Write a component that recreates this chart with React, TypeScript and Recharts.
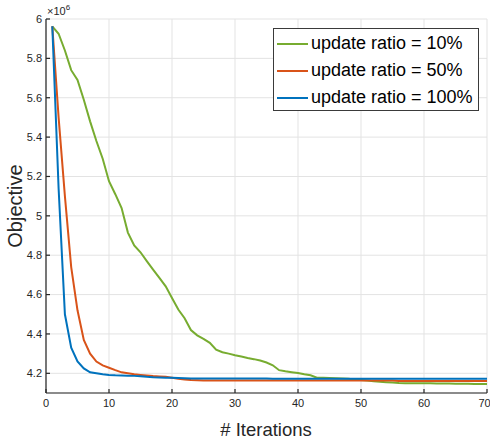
import React from "react";
import {
  LineChart,
  Line,
  XAxis,
  YAxis,
  CartesianGrid,
} from "recharts";

const iterations = [
  1, 2, 3, 4, 5, 6, 7, 8, 9, 10, 11, 12, 13, 14, 15, 16, 17, 18, 19, 20,
  21, 22, 23, 24, 25, 26, 27, 28, 29, 30, 31, 32, 33, 34, 35, 36, 37, 38, 39, 40,
  41, 42, 43, 44, 45, 46, 47, 48, 49, 50, 51, 52, 53, 54, 55, 56, 57, 58, 59, 60,
  61, 62, 63, 64, 65, 66, 67, 68, 69, 70,
];

// objective values (x 1e6)
const ratio10 = [
  5.963, 5.925, 5.84, 5.74, 5.69, 5.59, 5.48, 5.38, 5.29, 5.176,
  5.11, 5.04, 4.915, 4.85, 4.815, 4.77, 4.727, 4.685, 4.642, 4.583,
  4.524, 4.48, 4.42, 4.393, 4.375, 4.355, 4.32, 4.307, 4.3, 4.292,
  4.285, 4.278, 4.272, 4.265, 4.255, 4.241, 4.216, 4.21, 4.206, 4.202,
  4.195, 4.19, 4.178, 4.177, 4.176, 4.175, 4.174, 4.172, 4.169, 4.166,
  4.163, 4.16, 4.157, 4.155, 4.153, 4.151, 4.15, 4.15, 4.149, 4.149,
  4.149, 4.148, 4.148, 4.148, 4.147, 4.147, 4.147, 4.146, 4.146, 4.146,
];

const ratio50 = [
  5.963, 5.5, 5.1, 4.74, 4.52, 4.37, 4.3, 4.26, 4.24, 4.228,
  4.216, 4.205, 4.2, 4.195, 4.192, 4.189, 4.186, 4.184, 4.182, 4.178,
  4.172, 4.168, 4.166, 4.165, 4.164, 4.164, 4.164, 4.164, 4.164, 4.164,
  4.164, 4.164, 4.164, 4.164, 4.164, 4.164, 4.164, 4.164, 4.164, 4.164,
  4.163, 4.163, 4.163, 4.163, 4.163, 4.163, 4.163, 4.163, 4.163, 4.163,
  4.163, 4.163, 4.163, 4.163, 4.163, 4.161, 4.161, 4.161, 4.161, 4.161,
  4.161, 4.161, 4.161, 4.161, 4.161, 4.161, 4.161, 4.161, 4.161, 4.161,
];

const ratio100 = [
  5.963, 5.14, 4.5, 4.33, 4.26, 4.225, 4.205, 4.2, 4.195, 4.192,
  4.19, 4.189, 4.188, 4.187, 4.185, 4.182, 4.18, 4.179, 4.178, 4.177,
  4.176, 4.175, 4.174, 4.174, 4.174, 4.174, 4.174, 4.174, 4.174, 4.174,
  4.174, 4.174, 4.174, 4.174, 4.174, 4.173, 4.173, 4.173, 4.173, 4.173,
  4.173, 4.173, 4.173, 4.173, 4.173, 4.173, 4.173, 4.173, 4.173, 4.173,
  4.173, 4.173, 4.173, 4.173, 4.173, 4.173, 4.173, 4.173, 4.173, 4.173,
  4.173, 4.173, 4.173, 4.173, 4.173, 4.173, 4.173, 4.173, 4.173, 4.173,
];

const seriesKeys = ["r10", "r50", "r100"];
const seriesNames = ["update ratio = 10%", "update ratio = 50%", "update ratio = 100%"];
const seriesColors = ["#77AC30", "#D95319", "#0072BD"];

const xTicks = [0, 10, 20, 30, 40, 50, 60, 70];
const yTicks = [4.2, 4.4, 4.6, 4.8, 5, 5.2, 5.4, 5.6, 5.8, 6];

const data = iterations.map((it, i) => ({
  iter: it,
  r10: ratio10[i],
  r50: ratio50[i],
  r100: ratio100[i],
}));

const FONT = "'Liberation Sans', Arial, Helvetica, sans-serif";
const AXIS_COLOR = "#262626";
const tickStyle = { fontSize: 11, fill: AXIS_COLOR, fontFamily: FONT };

export default function App() {
  return (
    <div style={{ position: "relative", width: 490, height: 444, background: "#fff", fontFamily: FONT }}>
      <style>{`body{margin:0}`}</style>
      <LineChart
        width={490}
        height={444}
        data={data}
        margin={{ top: 19, right: 3, bottom: 31, left: 0 }}
      >
        <CartesianGrid stroke="#e3e3e3" strokeWidth={1} />
        <XAxis
          dataKey="iter"
          type="number"
          domain={[0, 70]}
          ticks={xTicks}
          height={20}
          tickSize={-4}
          tickMargin={10}
          stroke={AXIS_COLOR}
          strokeWidth={1.2}
          tick={tickStyle}
          allowDataOverflow
        />
        <XAxis
          xAxisId="top"
          orientation="top"
          type="number"
          dataKey="iter"
          domain={[0, 70]}
          ticks={xTicks}
          height={0}
          tickSize={-4}
          tick={false}
          stroke={AXIS_COLOR}
          strokeWidth={1.2}
          allowDataOverflow
        />
        <YAxis
          type="number"
          domain={[4.1, 6]}
          ticks={yTicks}
          width={46}
          tickSize={-4}
          tickMargin={8}
          stroke={AXIS_COLOR}
          strokeWidth={1.2}
          tick={tickStyle}
          tickFormatter={(v: number) => String(+v.toFixed(1))}
          allowDataOverflow
        />
        <YAxis
          yAxisId="right"
          orientation="right"
          type="number"
          domain={[4.1, 6]}
          ticks={yTicks}
          width={0}
          tickSize={-4}
          tick={false}
          stroke={AXIS_COLOR}
          strokeWidth={1.2}
          allowDataOverflow
        />
        {seriesKeys.map((k, i) => (
          <Line
            key={k}
            type="linear"
            dataKey={k}
            name={seriesNames[i]}
            stroke={seriesColors[i]}
            strokeWidth={2}
            dot={false}
            isAnimationActive={false}
          />
        ))}
      </LineChart>

      {/* exponent marker */}
      <div style={{ position: "absolute", left: 47, top: 4, fontSize: 11, lineHeight: "14px", color: AXIS_COLOR }}>
        ×10<sup style={{ fontSize: 8, verticalAlign: "top", position: "relative", top: -3 }}>6</sup>
      </div>

      {/* legend */}
      <div
        style={{
          position: "absolute",
          left: 273,
          top: 28,
          width: 204,
          height: 80,
          border: "1px solid #3a3a3a",
          background: "#fff",
          paddingTop: 1,
        }}
      >
        {seriesNames.map((name, i) => (
          <div key={name} style={{ display: "flex", alignItems: "center", height: 27, whiteSpace: "nowrap" }}>
            <div style={{ width: 31, height: 2, background: seriesColors[i], marginLeft: 3, marginRight: 3 }} />
            <span style={{ fontSize: 18, color: "#000" }}>{name}</span>
          </div>
        ))}
      </div>

      {/* axis titles */}
      <div
        style={{
          position: "absolute",
          left: 15,
          top: 206,
          transform: "translate(-50%, -50%) rotate(-90deg)",
          fontSize: 20,
          lineHeight: "20px",
          color: AXIS_COLOR,
          whiteSpace: "nowrap",
        }}
      >
        Objective
      </div>
      <div
        style={{
          position: "absolute",
          left: 266,
          top: 420,
          transform: "translateX(-50%)",
          fontSize: 18.5,
          lineHeight: "19px",
          color: AXIS_COLOR,
          whiteSpace: "nowrap",
        }}
      >
        # Iterations
      </div>
    </div>
  );
}
